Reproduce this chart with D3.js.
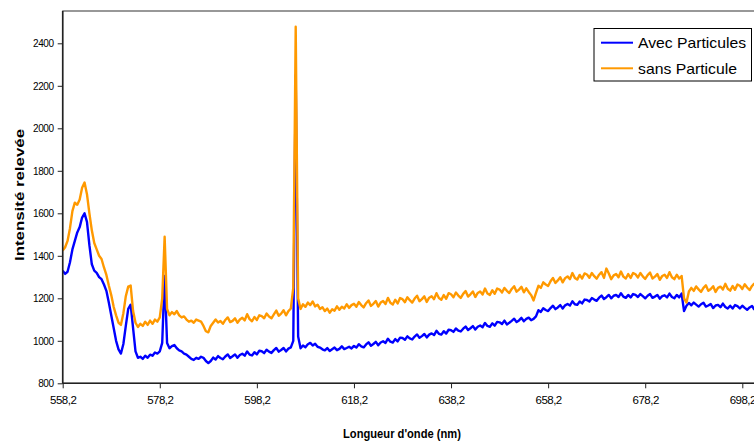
<!DOCTYPE html>
<html>
<head>
<meta charset="utf-8">
<script src="https://cdn.jsdelivr.net/npm/d3@7"></script>
<style>
  html, body { margin: 0; padding: 0; background: #fff; }
  svg { display: block; }
  text { font-family: "Liberation Sans", Arial, sans-serif; fill: #000; }
</style>
</head>
<body>
<svg id="chart" width="754" height="441"></svg>
<script>
// Spectral sampling grid (nm)
const startNm = 558.2;
const stepNm = 0.5;

// Intensité relevée — with particles
const avecParticules = [
  1330,1315,1325,1370,1430,1470,1510,1535,1580,1600,
  1560,1450,1360,1330,1320,1300,1290,1265,1235,1180,
  1120,1060,1000,960,940,985,1070,1150,1170,1060,
  950,920,925,915,930,920,935,930,945,940,
  950,990,1305,990,965,975,980,965,955,950,
  940,935,925,915,910,920,915,925,920,905,
  895,905,921,912,928,919,913,926,936,919,
  927,936,920,933,939,930,950,935,931,946,
  936,953,951,942,958,949,943,956,966,949,
  957,966,950,963,969,1000,2250,1020,965,978,
  970,984,990,978,986,972,968,960,955,966,
  952,960,968,956,962,974,961,966,972,964,
  976,968,984,974,969,983,993,977,985,995,
  979,992,998,990,1010,996,992,1008,997,1015,
  1013,1005,1021,1011,1006,1020,1030,1014,1022,1032,
  1016,1029,1035,1027,1047,1033,1029,1045,1034,1052,
  1050,1042,1058,1048,1044,1057,1067,1051,1059,1069,
  1053,1066,1072,1064,1084,1070,1066,1082,1071,1089,
  1087,1079,1095,1077,1085,1094,1104,1088,1096,1108,
  1092,1103,1109,1097,1103,1115,1144,1136,1153,1145,
  1140,1154,1165,1149,1157,1168,1152,1167,1173,1166,
  1186,1172,1169,1185,1176,1194,1192,1185,1201,1194,
  1188,1203,1213,1197,1205,1216,1200,1212,1216,1206,
  1224,1208,1202,1216,1204,1220,1216,1206,1220,1210,
  1200,1212,1220,1202,1208,1216,1198,1210,1214,1204,
  1222,1206,1200,1216,1204,1222,1140,1165,1178,1167,
  1180,1170,1161,1172,1179,1161,1166,1173,1154,1166,
  1169,1158,1175,1159,1152,1165,1152,1168,1163,1152,
  1165,1155,1146,1157,1164,1146
];

// Intensité relevée — without particles
const sansParticule = [
  1425,1440,1470,1530,1610,1650,1640,1665,1720,1745,
  1690,1600,1520,1460,1430,1400,1385,1345,1310,1260,
  1215,1160,1120,1085,1075,1130,1210,1255,1260,1140,
  1085,1065,1080,1070,1090,1075,1095,1080,1100,1090,
  1110,1200,1490,1150,1120,1135,1125,1140,1120,1110,
  1115,1100,1090,1095,1085,1100,1095,1090,1070,1045,
  1040,1070,1085,1100,1086,1093,1080,1098,1110,1088,
  1094,1106,1085,1100,1108,1096,1125,1102,1092,1112,
  1098,1120,1116,1106,1128,1114,1106,1124,1142,1118,
  1128,1144,1120,1140,1152,1250,2478,1200,1150,1172,
  1160,1180,1168,1185,1162,1170,1150,1158,1140,1152,
  1132,1148,1142,1162,1146,1160,1152,1172,1155,1168,
  1174,1160,1182,1168,1157,1177,1190,1164,1174,1187,
  1161,1180,1187,1173,1202,1179,1171,1193,1176,1201,
  1196,1182,1205,1191,1180,1199,1212,1186,1196,1209,
  1183,1203,1210,1196,1224,1201,1193,1215,1198,1224,
  1219,1205,1227,1213,1202,1221,1234,1208,1219,1232,
  1206,1225,1232,1218,1246,1223,1216,1238,1221,1246,
  1241,1227,1249,1235,1225,1244,1257,1231,1241,1254,
  1228,1247,1230,1215,1190,1225,1259,1249,1275,1265,
  1258,1280,1296,1272,1284,1299,1275,1295,1303,1290,
  1319,1296,1288,1310,1293,1317,1312,1297,1319,1304,
  1292,1311,1323,1296,1340,1317,1290,1308,1314,1299,
  1326,1302,1293,1314,1296,1319,1313,1298,1319,1303,
  1291,1309,1321,1293,1302,1314,1287,1305,1311,1296,
  1323,1299,1290,1311,1293,1305,1200,1180,1232,1249,
  1235,1256,1242,1230,1249,1261,1235,1244,1257,1230,
  1249,1255,1241,1268,1245,1236,1258,1240,1265,1259,
  1244,1266,1251,1239,1258,1270
];

const xTickValues = [558.2, 578.2, 598.2, 618.2, 638.2, 658.2, 678.2, 698.2];
const yTickValues = [800, 1000, 1200, 1400, 1600, 1800, 2000, 2200, 2400];
const seriesNames = ["Avec Particules", "sans Particule"];
const seriesColors = ["#0000FF", "#FF9900"];

const svg = d3.select("#chart");

const plot = { left: 62.7, top: 11, right: 760, bottom: 383.3 };

const x = d3.scaleLinear().domain([558.2, 698.2]).range([62.7, 742.3]);
const y = d3.scaleLinear().domain([800, 2400]).range([383.3, 43.3]);

const frFmt = v => d3.format(".1f")(v).replace(".", ",");

// Plot area frame
svg.append("rect")
  .attr("x", plot.left).attr("y", plot.top)
  .attr("width", plot.right - plot.left).attr("height", plot.bottom - plot.top)
  .attr("fill", "#fff").attr("stroke", "#333").attr("stroke-width", 1);

svg.append("defs").append("clipPath").attr("id", "plotClip")
  .append("rect")
  .attr("x", plot.left).attr("y", plot.top)
  .attr("width", plot.right - plot.left).attr("height", plot.bottom - plot.top);

// Series
const series = [avecParticules, sansParticule];
const line = d3.line()
  .x((d, i) => x(startNm + i * stepNm))
  .y(d => y(d));

const g = svg.append("g").attr("clip-path", "url(#plotClip)");
series.forEach((vals, k) => {
  g.append("path")
    .datum(vals)
    .attr("fill", "none")
    .attr("stroke", seriesColors[k])
    .attr("stroke-width", 2.4)
    .attr("stroke-linejoin", "round")
    .attr("d", line);
});

// Axes
const xAxis = svg.append("g")
  .attr("transform", `translate(0,${plot.bottom})`)
  .call(d3.axisBottom(x).tickValues(xTickValues).tickFormat(frFmt).tickSize(5).tickPadding(8));
xAxis.select(".domain").attr("stroke", "#222").attr("stroke-width", 1.6)
  .attr("d", `M${plot.left},0H${plot.right}`);
xAxis.selectAll(".tick line").attr("stroke", "#222");
xAxis.selectAll(".tick text")
  .style("font-size", "11.5px").style("letter-spacing", "-0.5px")
  .attr("font-family", null);

const yAxis = svg.append("g")
  .attr("transform", `translate(${plot.left},0)`)
  .call(d3.axisLeft(y).tickValues(yTickValues).tickFormat(d3.format("d")).tickSize(5).tickPadding(4));
yAxis.select(".domain").attr("stroke", "#222").attr("stroke-width", 1.6)
  .attr("d", `M0,${plot.top}V${plot.bottom}`);
yAxis.selectAll(".tick line").attr("stroke", "#222");
yAxis.selectAll(".tick text")
  .style("font-size", "10px").style("letter-spacing", "-0.4px")
  .attr("font-family", null);

// Axis titles
svg.append("text")
  .attr("x", 402).attr("y", 438)
  .attr("text-anchor", "middle")
  .attr("textLength", 118).attr("lengthAdjust", "spacingAndGlyphs")
  .style("font-size", "13px").style("font-weight", "bold")
  .text("Longueur d'onde (nm)");

svg.append("text")
  .attr("transform", "translate(24,195) rotate(-90)")
  .attr("text-anchor", "middle")
  .attr("textLength", 132).attr("lengthAdjust", "spacingAndGlyphs")
  .style("font-size", "13px").style("font-weight", "bold")
  .text("Intensité relevée");

// Legend
const legend = svg.append("g");
legend.append("rect")
  .attr("x", 594).attr("y", 28.5).attr("width", 157.5).attr("height", 52.5)
  .attr("fill", "#fff").attr("stroke", "#000").attr("stroke-width", 1);
const legendRows = [42.7, 68.3];
seriesNames.forEach((name, k) => {
  legend.append("line")
    .attr("x1", 601).attr("x2", 633)
    .attr("y1", legendRows[k]).attr("y2", legendRows[k])
    .attr("stroke", seriesColors[k]).attr("stroke-width", 2);
  legend.append("text")
    .attr("x", 638).attr("y", legendRows[k]).attr("dy", "0.36em")
    .attr("textLength", k === 0 ? 108 : 99).attr("lengthAdjust", "spacingAndGlyphs")
    .style("font-size", "14.5px")
    .text(name);
});
</script>
</body>
</html>
